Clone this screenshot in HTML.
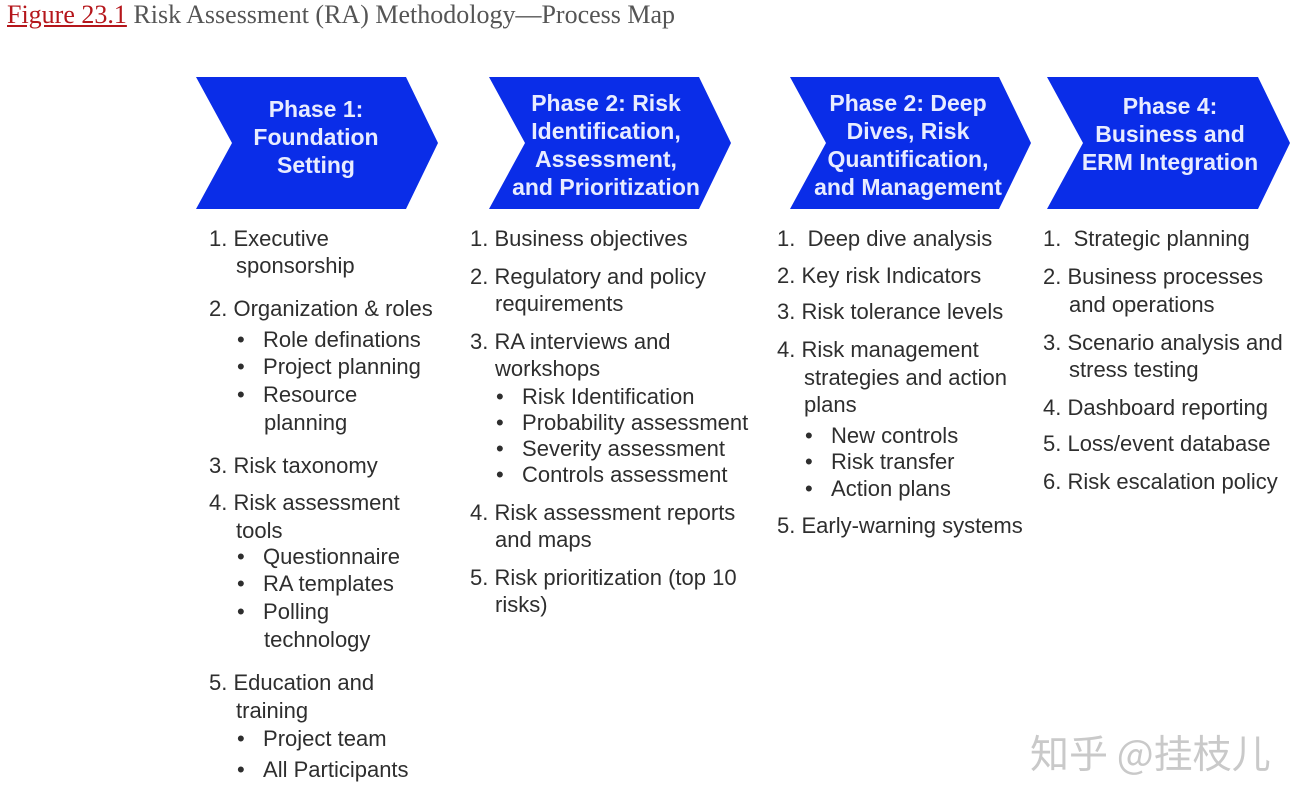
<!DOCTYPE html>
<html><head><meta charset="utf-8"><style>
body{margin:0;width:1306px;height:804px;background:#fff;position:relative;overflow:hidden;font-family:"Liberation Sans",Arial,sans-serif}
.t{position:absolute;font-size:22px;line-height:24px;color:#2e2e2e;white-space:nowrap;transform:translateY(-12px)}
.cap{position:absolute;left:7px;top:0px;font-family:"Liberation Serif",serif;font-size:26px;color:#555}
.cap a{color:#b5161b;text-decoration:underline}
.h{position:absolute;color:#e8ecff;font-weight:bold;font-size:23px;line-height:28px;text-align:center;white-space:nowrap}
.wm{position:absolute;left:1030px;top:724px;font-family:"Noto Sans CJK SC",sans-serif;font-size:39px;color:#c9c9c9}
</style></head><body>
<div class="cap"><a>Figure 23.1</a> Risk Assessment (RA) Methodology—Process Map</div>
<svg width="1306" height="804" style="position:absolute;left:0;top:0">
<g fill="#0a2de8">
<polygon points="196,77 406,77 438,143 406,209 196,209 232,143"/>
<polygon points="489,77 699,77 731,143 699,209 489,209 525,143"/>
<polygon points="790,77 999,77 1031,143 999,209 790,209 826,143"/>
<polygon points="1047,77 1258,77 1290,143 1258,209 1047,209 1083,143"/>
</g></svg>
<div class="h" style="left:236px;width:160px;top:95px">Phase 1:<br>Foundation<br>Setting</div>
<div class="h" style="left:506px;width:200px;top:89px">Phase 2: Risk<br>Identification,<br>Assessment,<br>and Prioritization</div>
<div class="h" style="left:808px;width:200px;top:89px">Phase 2: Deep<br>Dives, Risk<br>Quantification,<br>and Management</div>
<div class="h" style="left:1070px;width:200px;top:92px">Phase 4:<br>Business and<br>ERM Integration</div>

<div class="t" style="left:209px;top:239px">1. Executive</div>
<div class="t" style="left:236px;top:266px">sponsorship</div>
<div class="t" style="left:209px;top:309px">2. Organization &amp; roles</div>
<div class="t" style="left:237px;top:340px">•&nbsp;&nbsp;&nbsp;Role definations</div>
<div class="t" style="left:237px;top:367px">•&nbsp;&nbsp;&nbsp;Project planning</div>
<div class="t" style="left:237px;top:395px">•&nbsp;&nbsp;&nbsp;Resource</div>
<div class="t" style="left:264px;top:423px">planning</div>
<div class="t" style="left:209px;top:466px">3. Risk taxonomy</div>
<div class="t" style="left:209px;top:503px">4. Risk assessment</div>
<div class="t" style="left:236px;top:531px">tools</div>
<div class="t" style="left:237px;top:557px">•&nbsp;&nbsp;&nbsp;Questionnaire</div>
<div class="t" style="left:237px;top:584px">•&nbsp;&nbsp;&nbsp;RA templates</div>
<div class="t" style="left:237px;top:612px">•&nbsp;&nbsp;&nbsp;Polling</div>
<div class="t" style="left:264px;top:640px">technology</div>
<div class="t" style="left:209px;top:683px">5. Education and</div>
<div class="t" style="left:236px;top:711px">training</div>
<div class="t" style="left:237px;top:739px">•&nbsp;&nbsp;&nbsp;Project team</div>
<div class="t" style="left:237px;top:770px">•&nbsp;&nbsp;&nbsp;All Participants</div>

<div class="t" style="left:470px;top:239px">1. Business objectives</div>
<div class="t" style="left:470px;top:277px">2. Regulatory and policy</div>
<div class="t" style="left:495px;top:304px">requirements</div>
<div class="t" style="left:470px;top:342px">3. RA interviews and</div>
<div class="t" style="left:495px;top:369px">workshops</div>
<div class="t" style="left:496px;top:397px">•&nbsp;&nbsp;&nbsp;Risk Identification</div>
<div class="t" style="left:496px;top:423px">•&nbsp;&nbsp;&nbsp;Probability assessment</div>
<div class="t" style="left:496px;top:449px">•&nbsp;&nbsp;&nbsp;Severity assessment</div>
<div class="t" style="left:496px;top:475px">•&nbsp;&nbsp;&nbsp;Controls assessment</div>
<div class="t" style="left:470px;top:513px">4. Risk assessment reports</div>
<div class="t" style="left:495px;top:540px">and maps</div>
<div class="t" style="left:470px;top:578px">5. Risk prioritization (top 10</div>
<div class="t" style="left:495px;top:605px">risks)</div>

<div class="t" style="left:777px;top:239px">1.&nbsp; Deep dive analysis</div>
<div class="t" style="left:777px;top:276px">2. Key risk Indicators</div>
<div class="t" style="left:777px;top:312px">3. Risk tolerance levels</div>
<div class="t" style="left:777px;top:350px">4. Risk management</div>
<div class="t" style="left:804px;top:378px">strategies and action</div>
<div class="t" style="left:804px;top:405px">plans</div>
<div class="t" style="left:805px;top:436px">•&nbsp;&nbsp;&nbsp;New controls</div>
<div class="t" style="left:805px;top:462px">•&nbsp;&nbsp;&nbsp;Risk transfer</div>
<div class="t" style="left:805px;top:489px">•&nbsp;&nbsp;&nbsp;Action plans</div>
<div class="t" style="left:777px;top:526px">5. Early-warning systems</div>

<div class="t" style="left:1043px;top:239px">1.&nbsp; Strategic planning</div>
<div class="t" style="left:1043px;top:277px">2. Business processes</div>
<div class="t" style="left:1069px;top:305px">and operations</div>
<div class="t" style="left:1043px;top:343px">3. Scenario analysis and</div>
<div class="t" style="left:1069px;top:370px">stress testing</div>
<div class="t" style="left:1043px;top:408px">4. Dashboard reporting</div>
<div class="t" style="left:1043px;top:444px">5. Loss/event database</div>
<div class="t" style="left:1043px;top:482px">6. Risk escalation policy</div>

<div class="wm">知乎 @挂枝儿</div>
</body></html>
